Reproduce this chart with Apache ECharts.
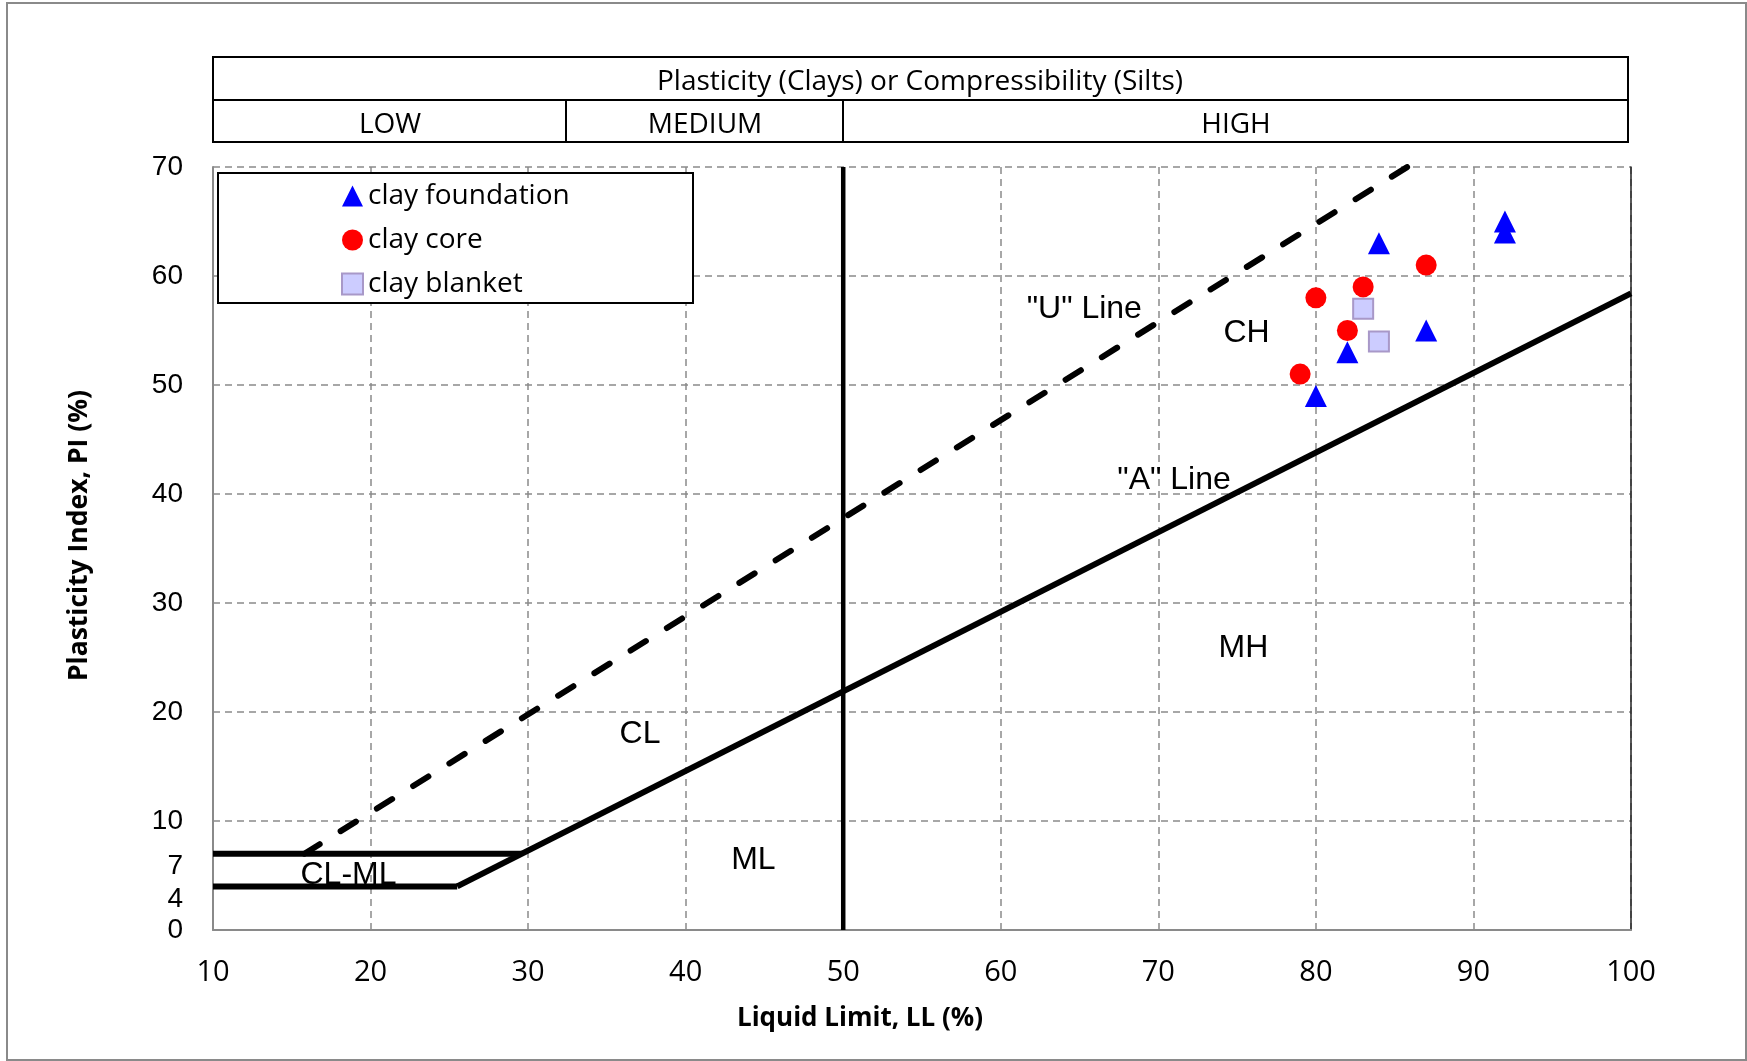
<!DOCTYPE html>
<html>
<head>
<meta charset="utf-8">
<title>Plasticity chart</title>
<script src="https://cdn.jsdelivr.net/npm/echarts@6/dist/echarts.min.js"></script>
<style>
    html, body { margin: 0; padding: 0; background: #fff; }
    #plasticityChart { width: 1747px; height: 1061px; }
</style>
</head>
<body>
<div id="plasticityChart"></div>
<script>
// values: [LL, PI]
var clayFoundation = [[80, 49], [82, 53], [84, 63], [87, 55], [92, 65], [92, 64]];
var clayCore = [[79, 51], [80, 58], [82, 55], [83, 59], [87, 61]];
var clayBlanket = [[83, 57], [84, 54]];

// classification lines
var uLine = [[15.8, 7], [85.8, 70]];
var aLine = [[25.5, 4], [100, 58.4]];
var clmlTop = [[10, 7], [29.6, 7]];
var clmlBottom = [[10, 4], [25.5, 4]];
var llFifty = [[50, 0], [50, 70]];

// zone labels placed in chart units
var zoneLabels = [
    ['"U" Line', 65.3, 57.0],
    ['CH', 75.6, 54.8],
    ['"A" Line', 71.0, 41.3],
    ['MH', 75.4, 25.9],
    ['CL', 37.1, 18.0],
    ['ML', 44.3, 6.4],
    ['CL-ML', 18.6, 5.0]
];

var yTickLabels = [0, 4, 7, 10, 20, 30, 40, 50, 60, 70];
var seriesNames = ['clay foundation', 'clay core', 'clay blanket'];

var init_plasticityChart = function () {
    var myChart = echarts.init(document.getElementById('plasticityChart'));

    var gridColor = '#8a8a8a';
    var solidLine = function (name, data, width) {
        return {
            name: name,
            type: 'line',
            data: data,
            symbol: 'none',
            silent: true,
            z: 3,
            lineStyle: { color: '#000', width: width }
        };
    };
    var headerText = function (text, x, y) {
        return {
            type: 'text', x: x, y: y, z: 5,
            style: { text: text, fontFamily: 'Open Sans', fontSize: 28, fill: '#000',
                     align: 'center', verticalAlign: 'middle' }
        };
    };

    var option = {
        backgroundColor: '#fff',
        animation: false,
        grid: { left: 213, right: 116, top: 167, bottom: 131 },
        legend: {
            data: seriesNames,
            orient: 'vertical',
            left: 336,
            top: 177,
            z: 10,
            itemWidth: 21,
            itemHeight: 21,
            itemGap: 16,
            textStyle: { fontFamily: 'Open Sans', fontSize: 28, color: '#000', lineHeight: 28 }
        },
        xAxis: {
            type: 'value',
            min: 10,
            max: 100,
            interval: 10,
            name: 'Liquid Limit, LL (%)',
            nameLocation: 'middle',
            nameGap: 76,
            nameTextStyle: {
                fontFamily: 'Open Sans', fontWeight: 'bold', fontSize: 26, color: '#000',
                padding: [0, 124, 0, 0]
            },
            axisLine: { show: true, lineStyle: { color: gridColor, width: 2 } },
            axisTick: { show: false },
            axisLabel: { fontFamily: 'Open Sans', fontSize: 29, color: '#000', margin: 28 },
            splitLine: { show: true, lineStyle: { color: gridColor, width: 1.5, type: [7, 5] } }
        },
        yAxis: [{
            type: 'value',
            min: 0,
            max: 70,
            interval: 10,
            position: 'left',
            name: 'Plasticity Index, PI (%)',
            nameLocation: 'middle',
            nameGap: 120,
            nameRotate: 90,
            nameTextStyle: {
                fontFamily: 'Open Sans', fontWeight: 'bold', fontSize: 26.5, color: '#000',
                padding: [0, 0, 0, 26]
            },
            axisLine: { show: true, lineStyle: { color: gridColor, width: 2 } },
            axisTick: { show: false },
            axisLabel: { show: false },
            splitLine: { show: true, lineStyle: { color: gridColor, width: 1.5, type: [7, 5] } }
        }, {
            // labels only, so 4 and 7 can be shown
            type: 'value',
            min: 0,
            max: 70,
            interval: 1,
            position: 'left',
            axisLine: { show: false },
            axisTick: { show: false },
            splitLine: { show: false },
            axisLabel: {
                fontFamily: 'Liberation Sans',
                fontSize: 28,
                color: '#000',
                margin: 30,
                formatter: function (v) {
                    if (yTickLabels.indexOf(v) < 0) return '';
                    if (v === 4 || v === 7) return '{low|' + v + '}';
                    return '' + v;
                },
                rich: {
                    low: { fontFamily: 'Liberation Sans', fontSize: 28, color: '#000', padding: [25, 0, 0, 0] }
                }
            }
        }, {
            // right frame
            type: 'value',
            min: 0,
            max: 70,
            position: 'right',
            axisLine: { show: true, lineStyle: { color: '#222', width: 1.5 } },
            axisTick: { show: false },
            axisLabel: { show: false },
            splitLine: { show: false }
        }],
        graphic: [
            { type: 'rect', z: 1, shape: { x: 7, y: 3, width: 1739, height: 1057 },
              style: { fill: 'none', stroke: '#8a8a8a', lineWidth: 2 } },
            { type: 'rect', z: 1, shape: { x: 213, y: 57, width: 1415, height: 43 },
              style: { fill: '#fff', stroke: '#000', lineWidth: 2 } },
            { type: 'rect', z: 1, shape: { x: 213, y: 100, width: 353, height: 42 },
              style: { fill: '#fff', stroke: '#000', lineWidth: 2 } },
            { type: 'rect', z: 1, shape: { x: 566, y: 100, width: 277, height: 42 },
              style: { fill: '#fff', stroke: '#000', lineWidth: 2 } },
            { type: 'rect', z: 1, shape: { x: 843, y: 100, width: 785, height: 42 },
              style: { fill: '#fff', stroke: '#000', lineWidth: 2 } },
            headerText('Plasticity (Clays) or Compressibility (Silts)', 920, 82),
            headerText('LOW', 390, 125),
            headerText('MEDIUM', 705, 125),
            headerText('HIGH', 1236, 125),
            { type: 'rect', z: 2, shape: { x: 218, y: 173, width: 475, height: 130 },
              style: { fill: '#fff', stroke: '#000', lineWidth: 2 } }
        ],
        series: [
            solidLine('A line', aLine, 6),
            solidLine('CL-ML top', clmlTop, 6),
            solidLine('CL-ML bottom', clmlBottom, 6),
            solidLine('LL 50', llFifty, 4.5),
            {
                name: 'U line',
                type: 'line',
                data: uLine,
                symbol: 'none',
                silent: true,
                z: 3,
                lineStyle: { color: '#000', width: 6, type: [18, 24.7], cap: 'round' }
            },
            {
                name: 'zones',
                type: 'scatter',
                symbolSize: 0,
                silent: true,
                z: 4,
                itemStyle: { opacity: 1 },
                data: zoneLabels.map(function (d) { return { name: d[0], value: [d[1], d[2]] }; }),
                label: {
                    show: true,
                    position: 'inside',
                    formatter: '{b}',
                    fontFamily: 'Liberation Sans',
                    fontSize: 32,
                    color: '#000',
                    textBorderWidth: 0
                }
            },
            {
                name: seriesNames[0],
                type: 'scatter',
                data: clayFoundation,
                symbol: 'triangle',
                symbolSize: 22,
                z: 6,
                itemStyle: { color: '#0000ff', opacity: 1 }
            },
            {
                name: seriesNames[1],
                type: 'scatter',
                data: clayCore,
                symbol: 'circle',
                symbolSize: 21,
                z: 6,
                itemStyle: { color: '#ff0000', opacity: 1 }
            },
            {
                name: seriesNames[2],
                type: 'scatter',
                data: clayBlanket,
                symbol: 'rect',
                symbolSize: 20,
                z: 6,
                itemStyle: { color: '#ccccff', borderColor: '#a898c8', borderWidth: 2, opacity: 1 }
            }
        ]
    };

    myChart.setOption(option);
}

init_plasticityChart();
</script>
</body>
</html>
